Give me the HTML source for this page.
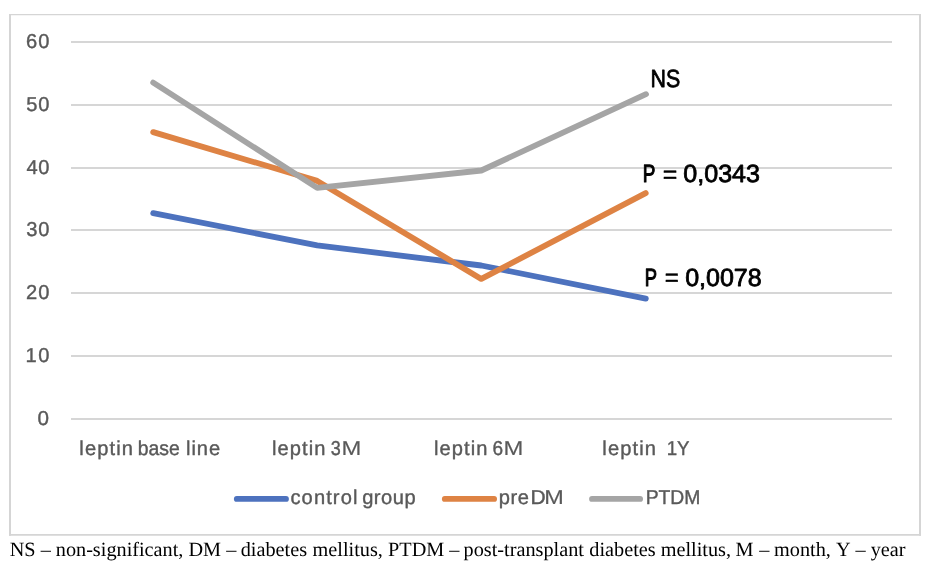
<!DOCTYPE html>
<html>
<head>
<meta charset="utf-8">
<title>Leptin chart</title>
<style>
  html, body { margin: 0; padding: 0; background: #ffffff; }
  body { width: 932px; height: 570px; overflow: hidden; position: relative; }
  svg { position: absolute; left: 0; top: 0; display: block; will-change: transform; }
  text { text-rendering: geometricPrecision; white-space: pre; }
  .ax { font-family: "Liberation Sans", sans-serif; font-size: 20.1px; fill: #595959; stroke: #595959; stroke-width: 0.4; stroke-linejoin: round; }
  .ann { font-family: "Liberation Sans", sans-serif; font-size: 24.9px; fill: #000000; stroke: #000000; stroke-width: 0.8; stroke-linejoin: round; }
  .lt { stroke-width: 0.15; }
  .hv { stroke-width: 1.15; }
  .eq { stroke-width: 0.5; }
  .cap { font-family: "Liberation Serif", serif; font-size: 20.25px; fill: #000000; }
</style>
</head>
<body>
<svg width="932" height="570" viewBox="0 0 932 570">
  <rect x="0" y="0" width="932" height="570" fill="#ffffff"/>
  <!-- chart frame -->
  <g fill="#d5d5d5">
    <rect x="9" y="14" width="912" height="1.25"/>
    <rect x="9" y="534" width="912" height="1.75"/>
    <rect x="9" y="14" width="2" height="521.75"/>
    <rect x="919" y="14" width="2" height="521.75"/>
  </g>

  <!-- gridlines -->
  <g stroke="#d6d6d6" stroke-width="2">
    <line x1="71" x2="892" y1="42" y2="42"/>
    <line x1="71" x2="892" y1="105" y2="105"/>
    <line x1="71" x2="892" y1="168" y2="168"/>
    <line x1="71" x2="892" y1="230" y2="230"/>
    <line x1="71" x2="892" y1="293" y2="293"/>
    <line x1="71" x2="892" y1="356" y2="356"/>
    <line x1="71" x2="892" y1="419" y2="419"/>
  </g>
  <!-- series -->
  <g fill="none" stroke-width="5.8" stroke-linecap="round" stroke-linejoin="round">
    <polyline stroke="#4d72be" points="153.2,213.2 317.2,245.4 481.3,265.5 645.8,298.6"/>
    <polyline stroke="#de8344" points="153.2,132.1 317.2,180.9 481.3,278.9 645.7,193.1"/>
    <polyline stroke="#a5a5a5" points="153.2,82.6 317.2,187.9 481.3,170.5 646.0,94.2"/>
  </g>
  <!-- legend keys -->
  <g fill="none" stroke-width="5.8" stroke-linecap="round">
    <line stroke="#4d72be" x1="236.8" x2="286.0" y1="498.9" y2="498.9"/>
    <line stroke="#de8344" x1="444.8" x2="494.1" y1="498.9" y2="498.9"/>
    <line stroke="#a5a5a5" x1="592.0" x2="640.1" y1="498.9" y2="498.9"/>
  </g>
  <!-- labels -->
  <text id="y60" class="ax" x="25.90" y="47.70" textLength="23.50" lengthAdjust="spacing">60</text>
  <text id="y50" class="ax" x="26.15" y="110.70" textLength="23.25" lengthAdjust="spacing">50</text>
  <text id="y40" class="ax" x="26.40" y="173.70" textLength="23.00" lengthAdjust="spacing">40</text>
  <text id="y30" class="ax" x="26.15" y="235.70" textLength="23.25" lengthAdjust="spacing">30</text>
  <text id="y20" class="ax" x="25.90" y="298.70" textLength="23.50" lengthAdjust="spacing">20</text>
  <text id="y10" class="ax" x="25.40" y="361.70" textLength="24.00" lengthAdjust="spacing">10</text>
  <text id="y0" class="ax" x="37.51" y="424.70" textLength="11.48" lengthAdjust="spacingAndGlyphs">0</text>
  <text id="xl1" class="ax" x="79.35" y="454.60" textLength="53.70" lengthAdjust="spacing">leptin</text>
  <text id="xb1" class="ax" x="137.79" y="454.60" textLength="42.06" lengthAdjust="spacingAndGlyphs">base</text>
  <text id="xn1" class="ax" x="185.95" y="454.60" textLength="34.20" lengthAdjust="spacing">line</text>
  <text id="xl2" class="ax" x="271.95" y="454.60" textLength="53.55" lengthAdjust="spacing">leptin</text>
  <text id="x3" class="ax" x="330.67" y="454.60" textLength="10.01" lengthAdjust="spacingAndGlyphs">3</text>
  <text id="x3M" class="ax lt" x="341.62" y="454.60" textLength="19.88" lengthAdjust="spacingAndGlyphs">M</text>
  <text id="xl3" class="ax" x="433.95" y="454.60" textLength="53.55" lengthAdjust="spacing">leptin</text>
  <text id="x6" class="ax" x="492.39" y="454.60" textLength="10.62" lengthAdjust="spacingAndGlyphs">6</text>
  <text id="x6M" class="ax lt" x="503.62" y="454.60" textLength="19.88" lengthAdjust="spacingAndGlyphs">M</text>
  <text id="xl4" class="ax" x="602.35" y="454.60" textLength="53.55" lengthAdjust="spacing">leptin</text>
  <text id="x1y" class="ax" x="666.69" y="454.60" textLength="22.91" lengthAdjust="spacingAndGlyphs">1Y</text>
  <text id="lc" class="ax" x="290.45" y="504.30" textLength="66.95" lengthAdjust="spacing">control</text>
  <text id="lg" class="ax" x="362.15" y="504.30" textLength="53.50" lengthAdjust="spacing">group</text>
  <text id="lp" class="ax" x="498.80" y="504.30" textLength="30.05" lengthAdjust="spacing">pre</text>
  <text id="ldD" class="ax" x="530.52" y="504.30" textLength="15.17" lengthAdjust="spacingAndGlyphs">D</text>
  <text id="ldM" class="ax lt" x="544.32" y="504.30" textLength="19.53" lengthAdjust="spacingAndGlyphs">M</text>
  <text id="lt" class="ax" x="645.67" y="504.30" textLength="54.81" lengthAdjust="spacingAndGlyphs">PTDM</text>
  <text id="ns" class="ann" x="650.53" y="86.95" textLength="29.68" lengthAdjust="spacingAndGlyphs">NS</text>
  <text id="p1" class="ann hv" x="642.63" y="181.90" textLength="12.58" lengthAdjust="spacingAndGlyphs">P</text>
  <text id="e1" class="ann eq" x="662.73" y="182.60" textLength="14.55" lengthAdjust="spacingAndGlyphs">=</text>
  <text id="v1" class="ann" x="683.30" y="181.90" textLength="76.70" lengthAdjust="spacingAndGlyphs">0,0343</text>
  <text id="p2" class="ann hv" x="644.79" y="285.60" textLength="12.26" lengthAdjust="spacingAndGlyphs">P</text>
  <text id="e2" class="ann eq" x="664.87" y="286.30" textLength="14.06" lengthAdjust="spacingAndGlyphs">=</text>
  <text id="v2" class="ann" x="685.15" y="285.60" textLength="76.55" lengthAdjust="spacingAndGlyphs">0,0078</text>
  <!-- caption -->
  <text class="cap" y="556.0"><tspan x="9.65">NS</tspan><tspan x="40.80">–</tspan><tspan x="55.75">non-significant,</tspan><tspan x="188.45">DM</tspan><tspan x="226.30">–</tspan><tspan x="240.70">diabetes</tspan><tspan x="312.60">mellitus,</tspan><tspan x="388.05">PTDM</tspan><tspan x="449.20">–</tspan><tspan x="463.60">post-transplant</tspan><tspan x="589.30">diabetes</tspan><tspan x="660.70">mellitus,</tspan><tspan x="735.55">M</tspan><tspan x="759.30">–</tspan><tspan x="774.00">month,</tspan><tspan x="835.90">Y</tspan><tspan x="855.50">–</tspan><tspan x="870.70">year</tspan></text>
</svg>
</body>
</html>
